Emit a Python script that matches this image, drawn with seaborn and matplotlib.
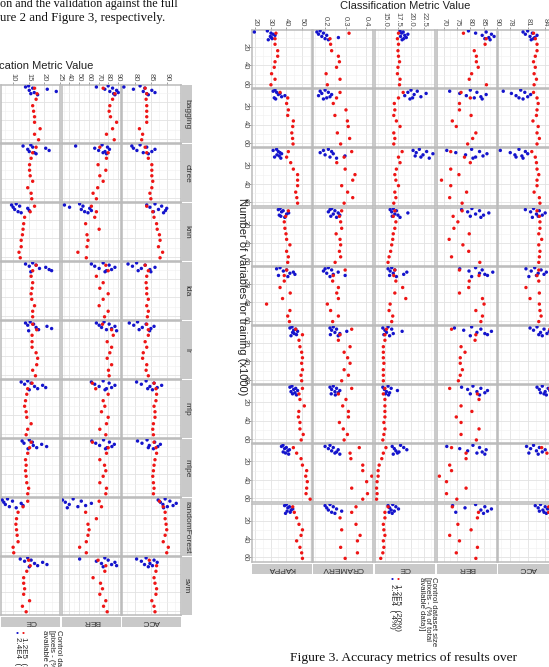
import matplotlib
matplotlib.use("Agg")
import matplotlib.pyplot as plt
import pandas as pd
import seaborn as sns

W, H = 549, 667

classifiers = ["bagging", "ctree", "knn", "lda", "lr", "mlp", "mlpe", "randomForest", "svm"]
red_vars = [5, 11, 17, 24, 30, 36, 42, 49, 55, 61]
blue_vars = [2.5, 3.7, 4.9, 6.1, 7.3, 8.5, 9.7, 10.9, 12.1]

# ---- Figure 3 (right), one list per classifier row ----
f3_kappa_red = [
    [33.4, 32.8, 32.8, 34.5, 34.5, 32.8, 32.3, 30.6, 32.8, 30.2],
    [36.0, 40.9, 40.2, 41.3, 40.9, 44.5, 44.1, 43.5, 44.0, 44.3],
    [41.3, 40.2, 42.8, 44.5, 47.2, 47.2, 47.2, 46.0, 46.7, 47.2],
    [41.3, 39.6, 38.7, 39.1, 39.8, 40.2, 42.3, 40.2, 41.3, 40.9],
    [40.2, 38.7, 38.7, 36.0, 42.5, 37.6, 27.4, 42.3, 40.9, 42.0],
    [46.0, 50.3, 48.1, 48.7, 49.8, 50.3, 49.8, 50.3, 49.4, 49.8],
    [50.3, 48.1, 48.7, 51.5, 48.0, 47.7, 48.7, 48.7, 50.8, 49.5],
    [44.5, 46.6, 49.4, 50.3, 53.0, 52.4, 53.4, 53.0, 52.6, 55.2],
    [44.1, 45.1, 46.6, 48.1, 50.3, 49.4, 46.6, 48.7, 49.8, 50.3],
]
f3_kappa_blue = [
    [27.9, 19.6, 30.2, 31.6, 32.8, 29.8, 30.5, 31.0, 28.5],
    [32.8, 31.6, 33.8, 36.0, 34.9, 39.1, 37.0, 32.3, 33.2],
    [33.8, 31.6, 34.9, 36.0, 37.0, 34.0, 35.5, 32.5, 36.5],
    [36.0, 34.9, 38.0, 37.0, 41.5, 40.2, 35.5, 36.5, 39.0],
    [36.0, 33.8, 40.2, 38.1, 44.5, 42.3, 45.5, 35.0, 41.0],
    [43.6, 42.3, 46.0, 44.7, 47.2, 44.0, 45.0, 46.5, 43.0],
    [43.6, 42.3, 46.0, 44.7, 47.2, 43.0, 45.5, 44.0, 46.5],
    [37.9, 36.9, 40.0, 38.9, 42.0, 41.0, 38.0, 39.5, 41.5],
    [40.0, 38.9, 42.0, 41.0, 44.1, 43.1, 40.5, 42.5, 39.5],
]
f3_cramerv_red = [
    [0.317, 0.224, 0.227, 0.232, 0.265, 0.270, 0.256, 0.205, 0.273, 0.211],
    [0.273, 0.256, 0.240, 0.302, 0.248, 0.309, 0.313, 0.260, 0.320, 0.276],
    [0.330, 0.293, 0.257, 0.298, 0.346, 0.335, 0.281, 0.310, 0.335, 0.293],
    [0.281, 0.270, 0.276, 0.281, 0.254, 0.273, 0.276, 0.270, 0.276, 0.249],
    [0.298, 0.240, 0.237, 0.265, 0.257, 0.265, 0.211, 0.227, 0.265, 0.237],
    [0.330, 0.273, 0.265, 0.322, 0.293, 0.310, 0.322, 0.293, 0.314, 0.281],
    [0.330, 0.265, 0.302, 0.286, 0.314, 0.314, 0.270, 0.289, 0.309, 0.293],
    [0.367, 0.322, 0.326, 0.384, 0.384, 0.428, 0.403, 0.330, 0.407, 0.384],
    [0.351, 0.330, 0.273, 0.351, 0.281, 0.371, 0.358, 0.276, 0.358, 0.298],
]
f3_cramerv_blue = [
    [0.176, 0.160, 0.192, 0.168, 0.208, 0.184, 0.265, 0.200, 0.216],
    [0.200, 0.176, 0.216, 0.184, 0.232, 0.168, 0.224, 0.208, 0.192],
    [0.216, 0.192, 0.232, 0.176, 0.240, 0.200, 0.297, 0.224, 0.256],
    [0.232, 0.224, 0.248, 0.216, 0.264, 0.240, 0.272, 0.228, 0.256],
    [0.216, 0.200, 0.232, 0.192, 0.264, 0.208, 0.240, 0.298, 0.224],
    [0.240, 0.224, 0.256, 0.232, 0.306, 0.248, 0.272, 0.226, 0.264],
    [0.240, 0.224, 0.256, 0.232, 0.272, 0.248, 0.264, 0.230, 0.250],
    [0.224, 0.200, 0.240, 0.216, 0.264, 0.232, 0.256, 0.248, 0.272],
    [0.224, 0.200, 0.240, 0.208, 0.256, 0.216, 0.281, 0.232, 0.248],
]
f3_ce_red = [
    [17.6, 17.4, 17.6, 17.5, 17.6, 17.8, 17.5, 17.4, 17.9, 17.8],
    [18.5, 17.6, 16.8, 16.9, 16.7, 17.2, 17.9, 16.7, 16.9, 16.7],
    [18.3, 17.6, 17.9, 17.2, 16.9, 17.1, 17.6, 16.9, 17.1, 16.7],
    [16.9, 16.6, 17.1, 16.9, 16.6, 16.5, 16.3, 16.1, 15.8, 15.6],
    [16.9, 16.7, 17.1, 18.4, 16.9, 19.0, 16.0, 15.8, 16.5, 16.3],
    [15.3, 15.0, 15.0, 14.7, 14.7, 14.7, 14.8, 14.7, 14.7, 14.7],
    [15.0, 14.7, 15.0, 15.0, 15.0, 15.0, 14.8, 15.0, 14.8, 14.6],
    [15.2, 14.7, 14.4, 13.9, 13.7, 13.7, 13.5, 13.4, 13.5, 13.4],
    [15.6, 15.0, 15.0, 14.7, 14.8, 15.0, 14.7, 14.8, 14.6, 14.2],
]
f3_ce_blue = [
    [17.9, 18.5, 18.2, 19.4, 18.8, 18.0, 19.1, 18.6, 18.3],
    [20.0, 21.2, 19.4, 22.9, 20.6, 18.8, 21.9, 20.3, 19.8],
    [21.6, 20.4, 23.0, 21.0, 24.2, 22.3, 20.8, 21.9, 23.5],
    [16.6, 16.0, 17.2, 16.3, 19.4, 16.9, 17.5, 16.4, 17.9],
    [16.3, 15.6, 16.9, 16.0, 19.2, 16.6, 18.6, 15.9, 17.2],
    [15.6, 14.6, 16.3, 15.0, 18.3, 15.3, 16.6, 14.8, 15.9],
    [15.6, 14.6, 16.2, 14.9, 17.4, 15.3, 15.9, 15.1, 15.7],
    [18.0, 16.4, 18.6, 16.8, 19.2, 17.1, 17.7, 17.4, 16.6],
    [16.5, 15.6, 17.1, 15.9, 17.6, 16.2, 16.8, 15.8, 16.4],
]
f3_ber_red = [
    [77.4, 86.0, 85.6, 81.5, 82.3, 82.3, 83.0, 80.5, 79.6, 86.1],
    [76.5, 80.0, 75.9, 75.9, 80.3, 73.2, 74.7, 82.1, 80.9, 79.0],
    [72.6, 77.8, 80.0, 72.6, 75.7, 69.1, 72.6, 78.6, 72.2, 76.9],
    [76.9, 73.5, 75.3, 73.8, 79.6, 72.0, 77.2, 79.4, 72.9, 83.6],
    [75.9, 83.3, 79.6, 79.4, 75.9, 84.6, 85.2, 82.1, 84.6, 84.0],
    [72.9, 82.1, 81.8, 76.5, 78.0, 76.2, 76.2, 77.0, 76.2, 75.5],
    [72.2, 82.7, 83.3, 76.5, 80.6, 74.7, 76.5, 83.3, 76.5, 82.3],
    [72.9, 78.4, 78.4, 72.2, 72.9, 68.3, 71.0, 78.4, 71.0, 74.9],
    [73.2, 83.1, 82.7, 75.3, 80.3, 72.2, 75.9, 82.7, 74.7, 82.1],
]
f3_ber_blue = [
    [79.3, 86.0, 82.0, 88.0, 84.5, 89.0, 87.0, 85.5, 87.5],
    [80.0, 72.2, 82.5, 76.0, 86.0, 78.5, 84.0, 81.5, 84.5],
    [80.5, 71.1, 83.5, 74.5, 86.3, 78.2, 84.8, 82.0, 81.0],
    [80.6, 76.7, 83.5, 79.0, 87.0, 82.0, 85.0, 80.0, 84.0],
    [82.0, 76.0, 84.5, 79.5, 88.5, 83.5, 85.5, 86.5, 80.5],
    [80.5, 74.0, 84.0, 77.5, 88.0, 82.5, 85.5, 86.5, 80.0],
    [81.0, 76.7, 84.0, 79.0, 86.5, 82.5, 85.5, 80.0, 83.5],
    [81.0, 71.1, 83.5, 76.0, 86.0, 79.0, 84.5, 82.5, 85.5],
    [82.0, 73.3, 85.5, 78.0, 88.0, 84.0, 86.5, 74.5, 85.0],
]
f3_acc_red = [
    [82.0, 82.3, 82.6, 82.6, 82.3, 82.0, 82.3, 82.1, 82.5, 82.1],
    [82.0, 82.6, 82.8, 82.6, 82.5, 81.9, 82.8, 82.6, 83.0, 82.6],
    [81.7, 82.3, 82.5, 82.6, 82.9, 82.6, 82.6, 82.1, 83.0, 83.1],
    [82.6, 83.0, 83.1, 83.1, 82.9, 83.4, 82.9, 83.1, 83.0, 82.9],
    [82.9, 82.6, 82.9, 80.7, 83.0, 81.4, 83.0, 83.1, 83.3, 82.9],
    [84.8, 84.9, 85.0, 85.2, 85.0, 85.3, 85.1, 85.0, 85.2, 85.1],
    [84.8, 85.0, 85.1, 85.0, 85.2, 85.0, 85.1, 85.3, 85.0, 85.1],
    [83.4, 84.3, 84.9, 85.0, 85.2, 85.1, 85.3, 85.2, 85.0, 85.2],
    [84.6, 84.6, 84.9, 85.0, 85.2, 85.0, 85.3, 85.1, 85.0, 85.2],
]
f3_acc_blue = [
    [81.0, 80.2, 81.8, 80.6, 82.6, 81.4, 82.2, 82.0, 81.6],
    [79.8, 76.8, 80.5, 78.2, 81.5, 79.0, 81.0, 79.5, 80.2],
    [79.5, 76.3, 80.6, 78.0, 81.0, 78.8, 80.0, 79.0, 80.2],
    [82.0, 80.6, 83.0, 81.5, 84.0, 82.5, 83.5, 82.8, 81.8],
    [82.2, 80.7, 83.3, 81.6, 84.2, 82.8, 83.8, 82.5, 81.2],
    [82.6, 81.4, 83.8, 82.0, 84.7, 83.2, 84.3, 82.9, 83.5],
    [83.5, 82.6, 84.5, 83.0, 84.8, 84.0, 83.2, 83.8, 84.2],
    [82.0, 80.8, 83.0, 81.5, 84.0, 82.5, 83.5, 81.2, 82.8],
    [83.2, 82.3, 84.0, 82.8, 84.4, 83.6, 83.0, 83.8, 84.2],
]

# ---- Figure 2 (left) ----
f2_ce_red = [
    [16.9, 17.7, 17.4, 16.3, 16.6, 16.9, 16.9, 18.7, 16.9, 18.2],
    [17.4, 16.3, 15.8, 15.3, 15.3, 15.5, 16.3, 14.7, 15.8, 16.0],
    [16.9, 15.5, 13.7, 13.4, 13.2, 13.0, 12.6, 12.6, 11.9, 12.3],
    [17.4, 16.3, 15.8, 16.3, 16.1, 15.8, 16.0, 16.9, 16.3, 16.3],
    [16.3, 17.6, 16.1, 16.1, 16.1, 17.4, 17.9, 17.6, 16.3, 17.2],
    [16.1, 14.7, 14.4, 14.0, 13.7, 14.2, 14.4, 15.8, 14.7, 14.2],
    [15.8, 15.3, 14.7, 14.0, 14.2, 14.0, 14.2, 14.4, 15.0, 14.7],
    [14.7, 13.2, 11.6, 11.1, 10.9, 11.1, 11.3, 11.6, 10.0, 10.2],
    [15.0, 15.5, 14.4, 13.4, 13.4, 13.7, 13.4, 15.3, 13.0, 14.2],
]
f2_ce_blue = [
    [15.0, 14.0, 16.3, 21.0, 15.2, 23.9, 16.8, 15.7, 17.9],
    [15.7, 13.2, 16.3, 20.5, 14.7, 21.6, 15.2, 16.8, 17.4],
    [11.0, 9.5, 12.1, 10.0, 14.7, 10.5, 15.2, 11.6, 12.6],
    [16.3, 14.0, 17.4, 15.2, 20.5, 18.5, 21.6, 22.4, 15.7],
    [15.5, 14.0, 16.6, 14.7, 20.9, 17.4, 22.4, 18.2, 15.0],
    [14.7, 12.6, 15.8, 13.7, 19.5, 16.9, 20.5, 17.9, 15.2],
    [15.2, 12.9, 16.2, 13.5, 19.2, 16.5, 20.8, 17.6, 14.8],
    [8.2, 6.5, 9.8, 7.0, 12.6, 7.5, 13.2, 8.8, 11.0],
    [14.7, 12.3, 15.8, 13.7, 19.5, 16.9, 20.9, 17.9, 15.2],
]
f2_ber_red = [
    [74.6, 86.6, 84.2, 81.4, 80.7, 82.1, 88.3, 84.2, 78.0, 85.9],
    [71.2, 79.7, 78.0, 69.4, 77.3, 71.2, 74.6, 69.0, 64.3, 67.7],
    [62.6, 67.7, 66.0, 56.7, 70.5, 58.1, 59.1, 58.1, 48.8, 57.4],
    [77.3, 79.7, 67.7, 74.6, 71.2, 79.7, 74.6, 70.5, 79.7, 76.0],
    [73.9, 83.2, 84.9, 78.7, 83.2, 81.4, 78.7, 83.2, 80.0, 80.7],
    [63.6, 67.0, 79.7, 74.6, 76.3, 72.9, 79.7, 78.0, 71.2, 77.3],
    [63.6, 79.7, 78.0, 71.2, 76.0, 77.3, 74.6, 71.2, 78.0, 77.3],
    [70.5, 72.9, 56.7, 67.7, 59.1, 60.2, 59.1, 57.4, 50.6, 57.4],
    [69.4, 77.3, 76.3, 64.3, 71.9, 73.9, 71.2, 77.3, 75.0, 78.7],
]
f2_ber_blue = [
    [79.7, 67.7, 84.2, 76.3, 88.3, 81.4, 90.0, 85.3, 86.6],
    [73.5, 46.5, 79.0, 66.0, 81.0, 70.0, 76.5, 74.5, 78.0],
    [50.6, 35.1, 54.0, 40.3, 60.9, 52.3, 62.6, 55.7, 59.1],
    [74.6, 62.6, 80.7, 66.0, 86.6, 70.5, 83.2, 78.0, 76.5],
    [75.5, 67.7, 80.7, 70.5, 86.6, 73.0, 83.2, 78.0, 88.3],
    [74.6, 62.6, 80.7, 66.0, 86.6, 70.5, 83.2, 78.0, 76.5],
    [75.0, 63.0, 81.0, 67.0, 86.0, 71.0, 83.5, 78.5, 77.0],
    [44.0, 33.1, 52.3, 36.0, 62.6, 40.0, 56.7, 48.8, 38.0],
    [76.3, 50.6, 79.7, 67.7, 86.6, 72.9, 83.2, 88.3, 74.6],
]
f2_acc_red = [
    [83.2, 83.7, 83.5, 83.7, 83.7, 83.7, 83.7, 81.4, 82.4, 82.1],
    [83.2, 83.7, 84.2, 85.3, 85.3, 85.3, 85.6, 85.3, 84.7, 85.0],
    [83.7, 85.6, 86.0, 86.8, 87.0, 87.7, 87.9, 87.4, 88.7, 87.9],
    [83.2, 84.2, 83.7, 83.5, 83.7, 83.7, 84.2, 83.7, 84.2, 83.9],
    [83.7, 84.2, 84.2, 83.2, 83.7, 82.6, 82.4, 83.7, 83.5, 84.2],
    [86.0, 86.6, 86.8, 86.6, 86.0, 86.3, 86.3, 85.8, 85.6, 85.8],
    [86.0, 86.6, 86.8, 86.3, 86.0, 85.8, 85.6, 85.8, 86.0, 85.8],
    [87.7, 88.9, 89.5, 89.5, 89.8, 90.0, 89.5, 88.9, 90.5, 90.0],
    [84.5, 86.8, 86.6, 86.0, 86.3, 86.8, 86.6, 85.3, 86.0, 86.3],
]
f2_acc_blue = [
    [81.6, 76.5, 83.1, 79.5, 85.3, 82.6, 86.3, 83.7, 84.2],
    [81.6, 79.0, 83.7, 79.5, 86.3, 80.6, 85.3, 82.6, 84.2],
    [86.3, 83.7, 88.4, 84.7, 90.0, 87.4, 89.6, 85.8, 89.0],
    [80.5, 77.8, 83.2, 79.2, 86.3, 82.0, 84.7, 81.0, 85.0],
    [80.8, 78.2, 83.5, 79.6, 86.0, 82.3, 85.0, 81.3, 84.6],
    [83.5, 80.5, 86.0, 82.0, 88.4, 84.7, 87.0, 84.0, 85.5],
    [83.8, 80.8, 86.2, 82.2, 88.0, 84.5, 87.2, 84.2, 85.8],
    [89.5, 87.3, 91.0, 88.0, 93.0, 88.8, 92.0, 90.2, 89.0],
    [83.5, 80.5, 86.0, 82.0, 87.0, 84.7, 83.0, 85.5, 84.2],
]

sns.set_style("white")
plt.rcParams["font.family"] = ["Liberation Sans", "DejaVu Sans"]

pal = {"1.2E5": "#ee1515", "2.4E4": "#1414cc"}
STRIP = "#c9c9c9"
BORDER = "#bababa"

fig = plt.figure(figsize=(W / 100, H / 100), dpi=100)
fig.patch.set_facecolor("white")


def box(x, y, w, h):
    return fig.add_axes([x / W, 1 - (y + h) / H, w / W, h / H])


def put(x, y, s, **kw):
    fig.text(x / W, 1 - y / H, s, **kw)


def panel(x, y, w, h, red, blue, lim, ticks, fmt, show_top, show_left):
    ax = box(x, y, w, h)
    df = pd.DataFrame({
        "value": list(blue) + list(red),
        "vars": blue_vars[:len(blue)] + red_vars[:len(red)],
        "size": ["2.4E4"] * len(blue) + ["1.2E5"] * len(red),
    })
    sns.scatterplot(data=df, x="value", y="vars", hue="size", palette=pal,
                    s=6, linewidth=0, legend=False, ax=ax, zorder=3)
    step = ticks[1] - ticks[0]
    ax.set_xticks(ticks)
    ax.set_xticks([t - step / 2 for t in ticks] + [ticks[-1] + step / 2], minor=True)
    ax.set_xticklabels([fmt.format(t) for t in ticks])
    ax.set_yticks([20, 40, 60])
    ax.set_yticks([10, 30, 50], minor=True)
    ax.set_xlim(*lim)
    ax.set_ylim(64.5, 1.5)
    ax.grid(which="major", color="#e2e2e2", linewidth=0.6)
    ax.grid(which="minor", color="#f0f0f0", linewidth=0.4)
    ax.set_axisbelow(True)
    ax.set_xlabel("")
    ax.set_ylabel("")
    ax.xaxis.set_ticks_position("top")
    ax.tick_params(which="minor", length=0)
    ax.tick_params(axis="x", which="major", top=show_top, bottom=False,
                   labeltop=show_top, labelbottom=False, labelrotation=-90,
                   labelsize=5.5, length=2, width=0.5, pad=0.6,
                   color="#777777", labelcolor="#4d4d4d")
    ax.tick_params(axis="y", which="major", left=show_left, right=False,
                   labelleft=show_left, labelrotation=-90, labelsize=5.5,
                   length=2, width=0.5, pad=0.3, color="#777777",
                   labelcolor="#4d4d4d")
    for lab in ax.get_yticklabels():
        lab.set_verticalalignment("center")
    for sp in ax.spines.values():
        sp.set_color(BORDER)
        sp.set_linewidth(1.1)
    return ax


def strip(x, y, w, h, label, rot):
    ax = box(x, y, w, h)
    ax.set_facecolor(STRIP)
    ax.set_xticks([])
    ax.set_yticks([])
    for sp in ax.spines.values():
        sp.set_visible(False)
    ax.text(0.5, 0.5, label, rotation=rot, ha="center", va="center",
            fontsize=6, color="#333333", transform=ax.transAxes)


# ---------- Figure 3 (right) ----------
f3_cols = [
    ("KAPPA", f3_kappa_red, f3_kappa_blue, (18.1, 56.4), [20, 30, 40, 50], "{:.0f}"),
    ("CRAMERV", f3_cramerv_red, f3_cramerv_blue, (0.141, 0.434), [0.2, 0.3, 0.4], "{:.1f}"),
    ("CE", f3_ce_red, f3_ce_blue, (13.1, 24.6), [15.0, 17.5, 20.0, 22.5], "{:.1f}"),
    ("BER", f3_ber_red, f3_ber_blue, (67.4, 90.1), [70, 75, 80, 85, 90], "{:.0f}"),
    ("ACC", f3_acc_red, f3_acc_blue, (75.9, 86.2), [78, 81, 84], "{:.0f}"),
]
f3_x = [252, 313, 375, 437, 498]
for c, (name, reds, blues, lim, ticks, fmt) in enumerate(f3_cols):
    for r in range(len(classifiers)):
        panel(f3_x[c], 30 + r * 59.2, 60, 58, reds[r], blues[r], lim, ticks,
              fmt, r == 0, c == 0)
    strip(f3_x[c], 563.5, 60, 10, name, 180)

put(405, 6, "Classification Metric Value", ha="center", va="center",
    fontsize=8, color="#222222")
put(242, 297, "Number of variables for training (x1000)", rotation=-90,
    ha="center", va="center", fontsize=8, color="#222222")

# legend (rotated, as on the page)
put(437, 577, "Control dataset size", rotation=-90, ha="right", va="top",
    fontsize=5.6, color="#222222")
put(431, 577, "[pixels - (% of total", rotation=-90, ha="right", va="top",
    fontsize=5.6, color="#222222")
put(425, 577, "available data)]", rotation=-90, ha="right", va="top",
    fontsize=5.6, color="#222222")
put(398, 580, "\u2022", ha="center", va="center", fontsize=6, color=pal["1.2E5"])
put(392.5, 580, "\u2022", ha="center", va="center", fontsize=6, color=pal["2.4E4"])
put(398, 584, "1.2E5  (20%)", rotation=-90, ha="center", va="top",
    fontsize=5.8, color="#222222")
put(392.5, 584, "2.4E4  ( 4%)", rotation=-90, ha="center", va="top",
    fontsize=5.8, color="#222222")

# ---------- Figure 2 (left, cropped) ----------
f2_cols = [
    ("CE", f2_ce_red, f2_ce_blue, (6.1, 25.1), [10, 15, 20, 25], "{:.0f}"),
    ("BER", f2_ber_red, f2_ber_blue, (32.6, 92.8), [40, 50, 60, 70, 80, 90], "{:.0f}"),
    ("ACC", f2_acc_red, f2_acc_blue, (75.9, 94.5), [80, 85, 90], "{:.0f}"),
]
f2_x = [1, 62, 122]
for c, (name, reds, blues, lim, ticks, fmt) in enumerate(f2_cols):
    for r in range(len(classifiers)):
        panel(f2_x[c], 85 + r * 59.0, 59, 58, reds[r], blues[r], lim, ticks,
              fmt, r == 0, False)
    strip(f2_x[c], 617, 59, 10, name, 180)
for r, name in enumerate(classifiers):
    strip(182, 85 + r * 59.0, 9.5, 58, name, -90)

put(93, 66, "Classification Metric Value", ha="right", va="center",
    fontsize=8, color="#222222")
put(62, 630, "Control dataset size", rotation=-90, ha="right", va="top",
    fontsize=5.6, color="#222222")
put(55, 630, "[pixels - (% of total", rotation=-90, ha="right", va="top",
    fontsize=5.6, color="#222222")
put(48, 630, "available data)]", rotation=-90, ha="right", va="top",
    fontsize=5.6, color="#222222")
put(23, 633, "\u2022", ha="center", va="center", fontsize=6, color=pal["1.2E5"])
put(17, 633, "\u2022", ha="center", va="center", fontsize=6, color=pal["2.4E4"])
put(23, 637, "1.2E5  (20%)", rotation=-90, ha="center", va="top",
    fontsize=5.8, color="#222222")
put(17, 637, "2.4E4  ( 4%)", rotation=-90, ha="center", va="top",
    fontsize=5.8, color="#222222")

# ---------- page text ----------
serif = ["Liberation Serif", "DejaVu Serif"]
put(0, 7, "on and the validation against the full", ha="left",
    va="baseline", fontsize=8.7, family=serif, color="#111111")
put(0, 21, "ure 2 and Figure 3, respectively.", ha="left", va="baseline",
    fontsize=9.3, family=serif, color="#111111")
put(290.5, 661, "Figure 3. Accuracy metrics of results over", ha="left",
    va="baseline", fontsize=9.7, family=serif, color="#111111")

fig.savefig("out.png", dpi=100, facecolor="white")
